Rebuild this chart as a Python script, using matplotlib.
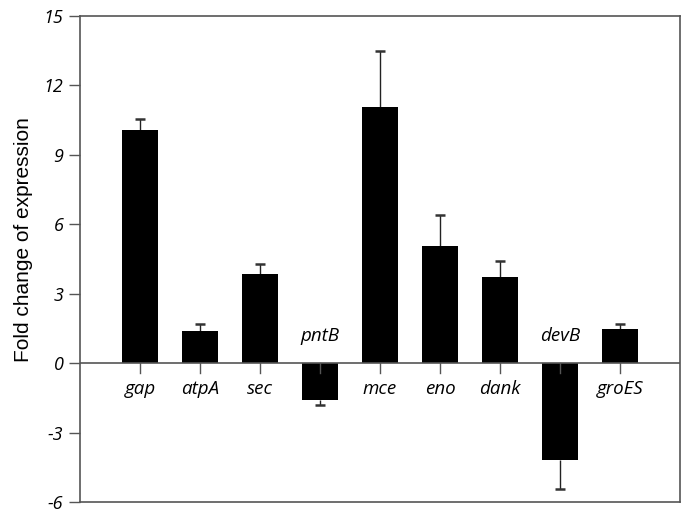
import matplotlib
matplotlib.use("Agg")
import matplotlib.pyplot as plt
import numpy as np

genes = ["gap", "atpA", "sec", "pntB", "mce", "eno", "dank", "devB", "groES"]
fold_change = [10.05, 1.37, 3.84, -1.61, 11.07, 5.05, 3.72, -4.18, 1.47]
error = [0.47, 0.30, 0.45, 0.19, 2.41, 1.36, 0.70, 1.27, 0.23]
yticks = [-6, -3, 0, 3, 6, 9, 12, 15]

fig = plt.figure(figsize=(6.85, 5.12), dpi=100)
ax = fig.add_axes([80/685, 1-502/512, 600/685, (502-15.7)/512])

x = np.arange(1, len(genes) + 1)
vals = np.array(fold_change)
err = np.array(error)
ends = vals + np.sign(vals) * err
ax.bar(x, vals, width=0.6, color="black", zorder=2)
ax.vlines(x, vals, ends, color="#222222", lw=1.0, zorder=1)
ax.hlines(ends, x - 0.085, x + 0.085, color="#333333", lw=1.8, zorder=1)

ax.set_xlim(0.0, 10.0)
ax.set_ylim(-6, 15)
ax.set_yticks(yticks)
ax.set_yticklabels([str(t) for t in yticks], family="Open Sans", style="italic", fontsize=13)
ax.tick_params(axis="y", direction="out", length=8, width=1.0, color="#555555", pad=4)
ax.set_xticks([])
ax.axhline(0, color="#555555", lw=1.2, zorder=3)

# small tick marks below the zero line
for xi in x:
    ax.plot([xi, xi], [0, -0.42], color="#555555", lw=1.0, zorder=3)

for xi, v, g in zip(x, vals, genes):
    yy = -1.1 if v >= 0 else 1.15
    ax.text(xi, yy, g, ha="center", va="center", family="Open Sans",
            style="italic", fontsize=13.5)

for s in ax.spines.values():
    s.set_color("#555555")
    s.set_linewidth(1.2)

ax.set_ylabel("Fold change of expression", family="Liberation Sans", fontsize=15)
ax.yaxis.set_label_coords(-0.078, 0.54)

fig.savefig("out.png", dpi=100)
